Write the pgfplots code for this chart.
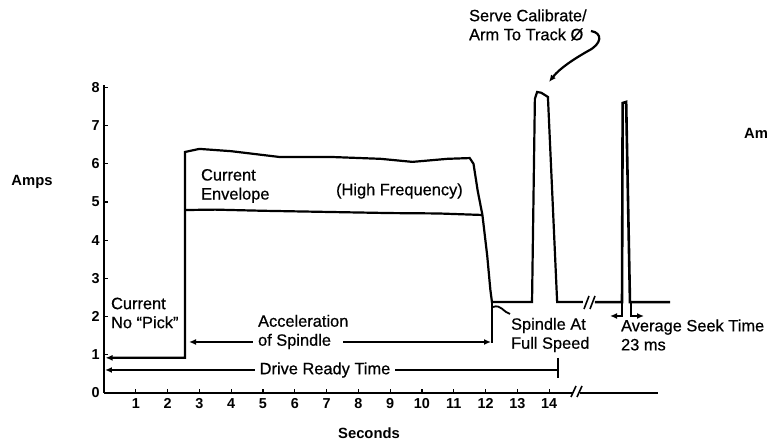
\documentclass[border=0pt]{standalone}
\usepackage{pgfplots}
\pgfplotsset{compat=1.18}
\usepackage{fontspec}
\setmainfont{Liberation Sans}
\newfontfamily\annfont{Liberation Sans}[FakeBold=0.6]
\usetikzlibrary{arrows.meta}
\newcommand\ann{\annfont\fontsize{8.2}{9.5}\selectfont}
\newcommand\lab{\fontsize{7.4}{8}\selectfont\bfseries}
\begin{document}
\begin{tikzpicture}[>={Latex[length=3.5pt,width=3pt]}]
\begin{axis}[
 x=15.9pt, y=19.1pt,
 xmin=0, xmax=17.42, ymin=0, ymax=8.06,
 axis x line*=bottom, axis y line*=left,
 x axis line style={draw=none},
 y axis line style={line width=1pt,-},
 xtick={1,...,14}, ytick={0,...,8},
 tick align=inside, major tick length=2pt,
 tick style={line width=0.6pt,black},
 ticklabel style={font=\fontsize{7.2}{8}\selectfont\bfseries},
 /pgf/number format/assume math mode=true,
 xticklabel style={inner sep=1pt, yshift=-1.5pt},
 yticklabel style={inner sep=1pt, xshift=-1pt},
 clip=false,
]
% main current trace
\addplot[line width=1.1pt, <-] coordinates {(0.05,0.92)(2.55,0.92)(2.55,6.31)(3.0,6.39)(4.0,6.33)(4.5,6.28)(5.5,6.18)(7.1,6.18)(8.7,6.13)(9.7,6.05)(10.8,6.13)(11.5,6.15)(11.62,6.0)(11.75,5.3)(11.9,4.66)(12.05,3.6)(12.15,2.7)(12.2,2.38)(13.46,2.38)(13.55,7.7)(13.62,7.88)(13.75,7.86)(13.96,7.75)(14.25,2.38)(15.06,2.38)};
% lower envelope
\addplot[line width=1.1pt] coordinates {(2.55,4.79)(3.5,4.80)(5,4.77)(7,4.74)(9,4.71)(10.5,4.70)(11.9,4.66)};
% after break: seek spike
\addplot[line width=1.3pt] coordinates {(15.44,2.38)(16.29,2.38)(16.31,7.59)(16.42,7.62)(16.54,2.38)(17.8,2.38)};
\draw[line width=1.1pt] (axis cs:0,0) -- (axis cs:14.75,0);
\draw[line width=1.1pt] (axis cs:14.97,0) -- (axis cs:17.42,0);
\coordinate (O) at (axis cs:0,0);
\end{axis}
\begin{scope}[shift={(O)}, xshift=-52pt, yshift=196.5pt, x=0.5pt, y=-0.5pt, line width=1.1pt]
 % axis break
 \draw[line width=0.8pt] (571,397) -- (576,386) (577,397) -- (582,386);
 % trace break
 \draw[line width=0.8pt] (584,309) -- (589,296) (590,309) -- (595,296);
 % spindle end marker
 \draw (492,302) -- (492,343);
 % acceleration of spindle
 \draw[<-] (189,342) -- (253,342);
 \draw[->] (343,342) -- (491,342);
 % drive ready time
 \draw[<-] (105,370) -- (255,370);
 \draw (395,370) -- (558,370);
 \draw (558,358) -- (558,378);
 % spindle pointer
 \draw[line width=0.9pt] (493,307) .. controls (501,304) and (503,312) .. (510,314);
 % seek arrows
 \draw[line width=0.9pt,->] (622,303) |- (610,316);
 \draw[line width=0.9pt,->] (631,303) |- (644,316);
 % serve calibrate arrow
 \draw[line width=1.1pt,->] (591,31) .. controls (603,33) and (602,44) .. (588,51) .. controls (574,59) and (560,68) .. (549,82);
 % texts
 \node[anchor=west, align=left, inner sep=0pt, font=\ann] at (110,313) {Current\\No “Pick”};
 \node[anchor=west, align=left, inner sep=0pt, font=\ann] at (200,186) {Current\\Envelope};
 \node[anchor=west, inner sep=0pt, font=\ann] at (335,191) {(High Frequency)};
 \node[anchor=west, align=left, inner sep=0pt, font=\ann] at (257,332) {Acceleration\\of Spindle};
 \node[inner sep=0pt, font=\ann] at (325,370) {Drive Ready Time};
 \node[anchor=west, align=left, inner sep=0pt, font=\ann] at (510,335) {Spindle At\\Full Speed};
 \node[anchor=west, align=left, inner sep=0pt, font=\ann] at (620,335) {Average Seek Time\\23 ms};
 \node[anchor=west, align=left, inner sep=0pt, font=\ann] at (468,25) {Serve Calibrate/\\Arm To Track Ø};
 \node[inner sep=0pt, font=\lab] at (32,182) {Amps};
 \node[inner sep=0pt, font=\lab] at (369,433) {Seconds};
 \node[anchor=west, inner sep=0pt, font=\lab] at (743,133) {Am};
\end{scope}
\pgfresetboundingbox
\begin{scope}[shift={(O)}, xshift=-52pt, yshift=196.5pt, x=0.5pt, y=-0.5pt]
 \useasboundingbox (0,0) rectangle (767,442);
\end{scope}
\end{tikzpicture}
\end{document}
